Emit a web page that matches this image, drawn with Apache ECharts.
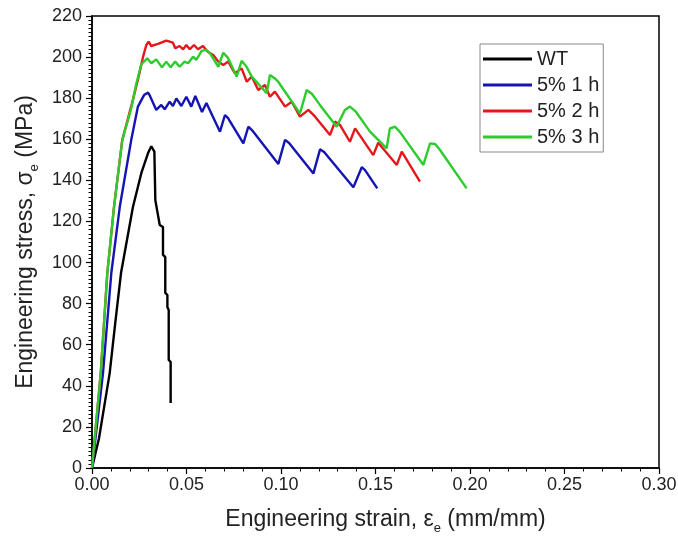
<!DOCTYPE html>
<html>
<head>
<meta charset="utf-8">
<script src="https://cdn.jsdelivr.net/npm/echarts@6/dist/echarts.min.js"></script>
<style>
html,body{margin:0;padding:0;background:#fff;}
#chart{width:678px;height:536px;}
</style>
</head>
<body>
<div id="chart"></div>
<script>
// ---- data (strain in mm/mm, stress in MPa) ----
const seriesNames = ['WT', '5% 1 h', '5% 2 h', '5% 3 h'];
const xTicks = [0, 0.05, 0.10, 0.15, 0.20, 0.25, 0.30];
const yTicks = [0, 20, 40, 60, 80, 100, 120, 140, 160, 180, 200, 220];

const wtStrain = [0, 0.00371, 0.00936, 0.01235, 0.01535, 0.02166, 0.02612, 0.02966, 0.03138, 0.03229, 0.0330, 0.03351, 0.03584, 0.03756, 0.03756, 0.03877, 0.03877, 0.03989, 0.03989, 0.04059, 0.04059, 0.04161, 0.04161];
const wtStress = [0, 14.5, 46.2, 71.0, 94.9, 127.0, 143.6, 153.3, 156.6, 157.2, 154.0, 130.4, 118.3, 117.3, 103.7, 102.7, 85.2, 84.2, 78.4, 76.9, 52.6, 51.6, 31.6];

const h1Strain = [0, 0.00582, 0.01022, 0.01468, 0.02075, 0.0243, 0.02754, 0.02966, 0.03067, 0.03401, 0.03665, 0.03847, 0.0411, 0.04282, 0.04464, 0.04728, 0.04991, 0.05254, 0.05467, 0.05821, 0.06054, 0.06772, 0.07036, 0.07198, 0.08008, 0.08271, 0.08463, 0.0986, 0.10214, 0.10427, 0.11713, 0.12067, 0.1228, 0.13828, 0.14274, 0.14446, 0.15094];
const h1Stress = [0, 46.2, 94.9, 127.0, 159.6, 175.9, 181.5, 182.7, 181.1, 174.3, 176.7, 174.6, 178.3, 176.2, 179.9, 176.2, 180.7, 175.9, 181.1, 173.3, 177.7, 163.7, 171.8, 170.3, 158.0, 166.1, 164.5, 148.0, 159.7, 158.2, 143.4, 155.1, 153.8, 136.6, 146.4, 145.0, 136.1];

const h2Strain = [0, 0.00461, 0.0081, 0.01164, 0.016, 0.02075, 0.0243, 0.02703, 0.02875, 0.02996, 0.03138, 0.03493, 0.03928, 0.04282, 0.04404, 0.04636, 0.04819, 0.04991, 0.05173, 0.05396, 0.05608, 0.05872, 0.06135, 0.06418, 0.06681, 0.06945, 0.07208, 0.07562, 0.07916, 0.0819, 0.08453, 0.08797, 0.09151, 0.09415, 0.09678, 0.10214, 0.10569, 0.11004, 0.11449, 0.11804, 0.12593, 0.12857, 0.1312, 0.13646, 0.1392, 0.14881, 0.15144, 0.16126, 0.1639, 0.17351];
const h2Stress = [0, 46.2, 94.9, 127.0, 159.6, 176.0, 189.0, 200.2, 205.9, 207.5, 205.4, 206.4, 208.0, 207.0, 204.3, 205.4, 203.8, 205.9, 203.8, 205.9, 203.8, 205.4, 202.5, 201.0, 197.8, 196.2, 197.8, 192.1, 194.5, 188.0, 190.5, 184.0, 186.4, 180.7, 183.2, 175.9, 178.3, 171.0, 174.3, 171.0, 162.1, 168.6, 167.0, 158.8, 165.3, 152.3, 158.3, 147.5, 154.0, 139.4];

const h3Strain = [0, 0.00461, 0.0081, 0.01164, 0.016, 0.02075, 0.02328, 0.02612, 0.02926, 0.03138, 0.03401, 0.03705, 0.03928, 0.04161, 0.04404, 0.04636, 0.049, 0.05082, 0.05345, 0.05517, 0.05801, 0.06044, 0.06246, 0.06681, 0.06945, 0.07198, 0.07653, 0.07916, 0.08149, 0.08453, 0.09243, 0.09415, 0.09678, 0.0986, 0.11004, 0.11358, 0.11642, 0.12067, 0.12947, 0.13383, 0.13646, 0.1397, 0.14709, 0.1559, 0.15762, 0.16035, 0.16298, 0.17533, 0.17888, 0.18151, 0.18414, 0.19821];
const h3Stress = [0, 46.2, 94.9, 127.0, 159.6, 175.0, 186.4, 196.6, 199.4, 197.0, 198.9, 195.0, 197.8, 195.0, 197.8, 195.3, 197.8, 197.0, 200.2, 198.6, 203.0, 203.5, 201.8, 195.3, 202.1, 199.6, 190.5, 198.2, 195.7, 190.5, 182.4, 191.3, 189.6, 187.9, 172.6, 184.0, 182.0, 176.6, 166.1, 174.3, 175.9, 173.3, 163.7, 155.6, 165.3, 166.1, 163.5, 147.5, 158.0, 157.7, 154.8, 136.1];

const colors = ['#000000', '#1414b4', '#e4181c', '#2ecb2e'];

function pairs(xs, ys) { return xs.map((x, i) => [x, ys[i]]); }
const allData = [pairs(wtStrain, wtStress), pairs(h1Strain, h1Stress), pairs(h2Strain, h2Stress), pairs(h3Strain, h3Stress)];

const chart = echarts.init(document.getElementById('chart'), null, {renderer: 'canvas'});
const FONT = 'Liberation Sans, Arial, sans-serif';
const tickFont = {fontFamily: FONT, fontSize: 18, color: '#222'};
function nameStyle(pad) {
  return {
    fontFamily: FONT, fontSize: 23, color: '#222', lineHeight: 30, padding: pad,
    rich: { sub: {fontFamily: FONT, fontSize: 13, lineHeight: 13, verticalAlign: 'bottom', color: '#222'} }
  };
}

chart.setOption({
  animation: false,
  backgroundColor: '#fff',
  color: colors,
  grid: {left: 92, right: 19, top: 16, bottom: 68, show: true, borderColor: '#000', borderWidth: 1.5,
         containLabel: false, outerBoundsMode: 'none'},
  xAxis: {
    type: 'value', min: xTicks[0], max: xTicks[xTicks.length - 1], interval: 0.05,
    name: 'Engineering strain, ε{sub|e} (mm/mm)', nameLocation: 'middle', nameGap: 37,
    nameTextStyle: nameStyle([0, 0, 0, 20]),
    axisLine: {show: true, onZero: false, lineStyle: {color: '#000', width: 1.5}},
    axisTick: {show: true, length: 6, lineStyle: {color: '#000', width: 1.2}},
    minorTick: {show: true, splitNumber: 5, length: 3.5, lineStyle: {color: '#000', width: 1}},
    splitLine: {show: false},
    axisLabel: Object.assign({margin: 8, formatter: v => v.toFixed(2)}, tickFont)
  },
  yAxis: {
    type: 'value', min: yTicks[0], max: yTicks[yTicks.length - 1], interval: 20,
    name: 'Engineering stress, σ{sub|e} (MPa)', nameLocation: 'middle', nameGap: 50, nameRotate: 90,
    nameTextStyle: nameStyle(0),
    axisLine: {show: true, onZero: false, lineStyle: {color: '#000', width: 1.5}},
    axisTick: {show: true, length: 6, lineStyle: {color: '#000', width: 1.2}},
    minorTick: {show: true, splitNumber: 10, length: 3.5, lineStyle: {color: '#000', width: 1}},
    splitLine: {show: false},
    axisLabel: Object.assign({margin: 10}, tickFont)
  },
  legend: {
    orient: 'vertical', left: 480, top: 44,
    icon: 'rect', itemWidth: 49, itemHeight: 3, itemGap: 6,
    padding: [5, 4, 5, 3],
    borderColor: '#888', borderWidth: 1, backgroundColor: '#fff',
    textStyle: {fontFamily: FONT, fontSize: 20, color: '#222', lineHeight: 20},
    data: seriesNames
  },
  series: seriesNames.map((n, i) => ({
    name: n, type: 'line', data: allData[i], symbol: 'none', showSymbol: false,
    lineStyle: {width: 2.4, color: colors[i]}, itemStyle: {color: colors[i]},
    z: 2 + i
  }))
});
</script>
</body>
</html>
